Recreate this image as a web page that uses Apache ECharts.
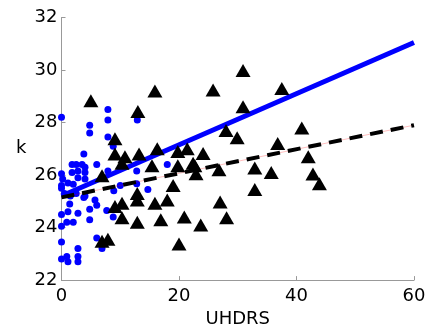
<!DOCTYPE html>
<html>
<head>
<meta charset="utf-8">
<script src="https://cdn.jsdelivr.net/npm/echarts@6/dist/echarts.min.js"></script>
<style>html,body{margin:0;padding:0;background:#fff}#c{width:430px;height:333px}</style>
</head>
<body>
<div id="c"></div>
<script>
const bluePoints = [
  [0,28.2],[7.9,28.5],[7.9,28.1],[4.8,27.9],[4.8,27.6],[7.9,27.45],[8.8,27.1],[12.9,28.1],
  [3.8,26.8],[6.0,26.4],[7.9,26.15],[8.9,25.4],
  [1.8,26.4],[2.5,26.4],[3.5,26.4],[4.0,26.3],[2.8,26.15],[4.0,26.1],[1.8,26.1],[2.8,25.9],
  [4.0,25.85],[0,26.05],[0.2,25.85],[1.1,25.7],[2.0,25.65],[0,25.6],[0,25.5],[0.5,25.3],
  [1.5,25.2],[2.5,25.3],[3.8,25.15],[1.4,24.9],[4.0,25.2],
  [5.7,25.05],[6.0,24.85],[4.8,24.7],[1.1,24.6],[2.8,24.55],[0,24.5],[4.8,24.3],[0.9,24.2],
  [2.0,24.2],[0,24.05],[7.7,24.65],[8.8,24.4],[6.0,23.6],[6.9,23.2],[0,23.45],[2.8,23.2],
  [0.9,22.9],[0,22.8],[1.1,22.7],[2.8,22.9],[2.8,22.7],
  [14.7,25.45],[12.8,25.67],[10.0,25.6],[12.8,26.15],[18.0,26.4]
];
const triPoints = [
  [5.0,28.83],[15.9,29.2],[13.0,28.42],[9.1,27.38],[16.3,27.0],[9.1,26.8],[10.8,26.7],[13.2,26.8],
  [10.3,26.45],[6.9,25.97],[15.4,26.35],[19.8,26.9],[21.4,27.0],[19.8,26.35],[22.7,26.35],
  [19.0,25.6],[12.9,25.3],[12.9,25.05],[10.3,24.93],[9.1,24.8],[15.9,24.93],[18.0,25.05],
  [10.3,24.37],[12.9,24.2],[16.9,24.3],[20.9,24.4],[6.9,23.48],[7.9,23.56],[20.0,23.37],
  [30.9,29.98],[25.8,29.24],[37.5,29.3],[30.9,28.6],[28.0,27.7],[29.9,27.42],[40.9,27.79],
  [36.8,27.2],[24.1,26.82],[22.4,26.45],[26.8,26.2],[22.9,26.05],[32.9,26.27],[35.7,26.1],
  [42.0,26.7],[42.8,26.04],[43.9,25.67],[32.9,25.45],[27.0,24.97],[28.1,24.37],[23.7,24.1]
];
const blueFit = [[0,25.2],[60,31.05]];
const blackFit = [[0,25.15],[60,27.9]];
const xTicks = [0,20,40,60];
const yTicks = [22,24,26,28,30,32];

const font = 'DejaVu Sans, Liberation Sans, Arial, sans-serif';
const chart = echarts.init(document.getElementById('c'), null, {renderer:'canvas'});
chart.setOption({
  animation:false,
  grid:{left:61.5,right:16,top:17.5,bottom:46,containLabel:false},
  xAxis:{type:'value',min:xTicks[0],max:xTicks[xTicks.length-1],interval:20,
    name:'UHDRS',nameLocation:'middle',nameGap:29,
    nameTextStyle:{fontFamily:font,fontSize:18,color:'#000'},
    axisLine:{show:true,lineStyle:{color:'#999',width:1}},
    axisTick:{show:true,inside:true,length:4,lineStyle:{color:'#999'}},
    axisLabel:{fontFamily:font,fontSize:18,color:'#000',margin:7},
    splitLine:{show:false}},
  yAxis:{type:'value',min:yTicks[0],max:yTicks[yTicks.length-1],interval:2,
    name:'k',nameLocation:'middle',nameGap:35,nameRotate:0,
    nameTextStyle:{fontFamily:font,fontSize:18,color:'#000'},
    axisLine:{show:true,lineStyle:{color:'#999',width:1}},
    axisTick:{show:true,inside:true,length:4,lineStyle:{color:'#999'}},
    axisLabel:{fontFamily:font,fontSize:18,color:'#000',margin:4},
    splitLine:{show:false}},
  series:[
    {type:'scatter',data:bluePoints,symbol:'circle',symbolSize:7,itemStyle:{color:'#0000ff',opacity:1},z:2},
    {type:'line',data:blueFit,symbol:'none',lineStyle:{color:'#0000ff',width:5},z:3},
    {type:'line',data:blackFit,symbol:'none',lineStyle:{color:'rgba(255,0,0,0.25)',width:1},z:3},
    {type:'line',data:blackFit,symbol:'none',lineStyle:{color:'#000',width:4,type:[13,8]},z:4},
    {type:'scatter',data:triPoints,symbol:'triangle',symbolSize:[15,13],itemStyle:{color:'#000',opacity:1},z:5}
  ]
});
</script>
</body>
</html>
